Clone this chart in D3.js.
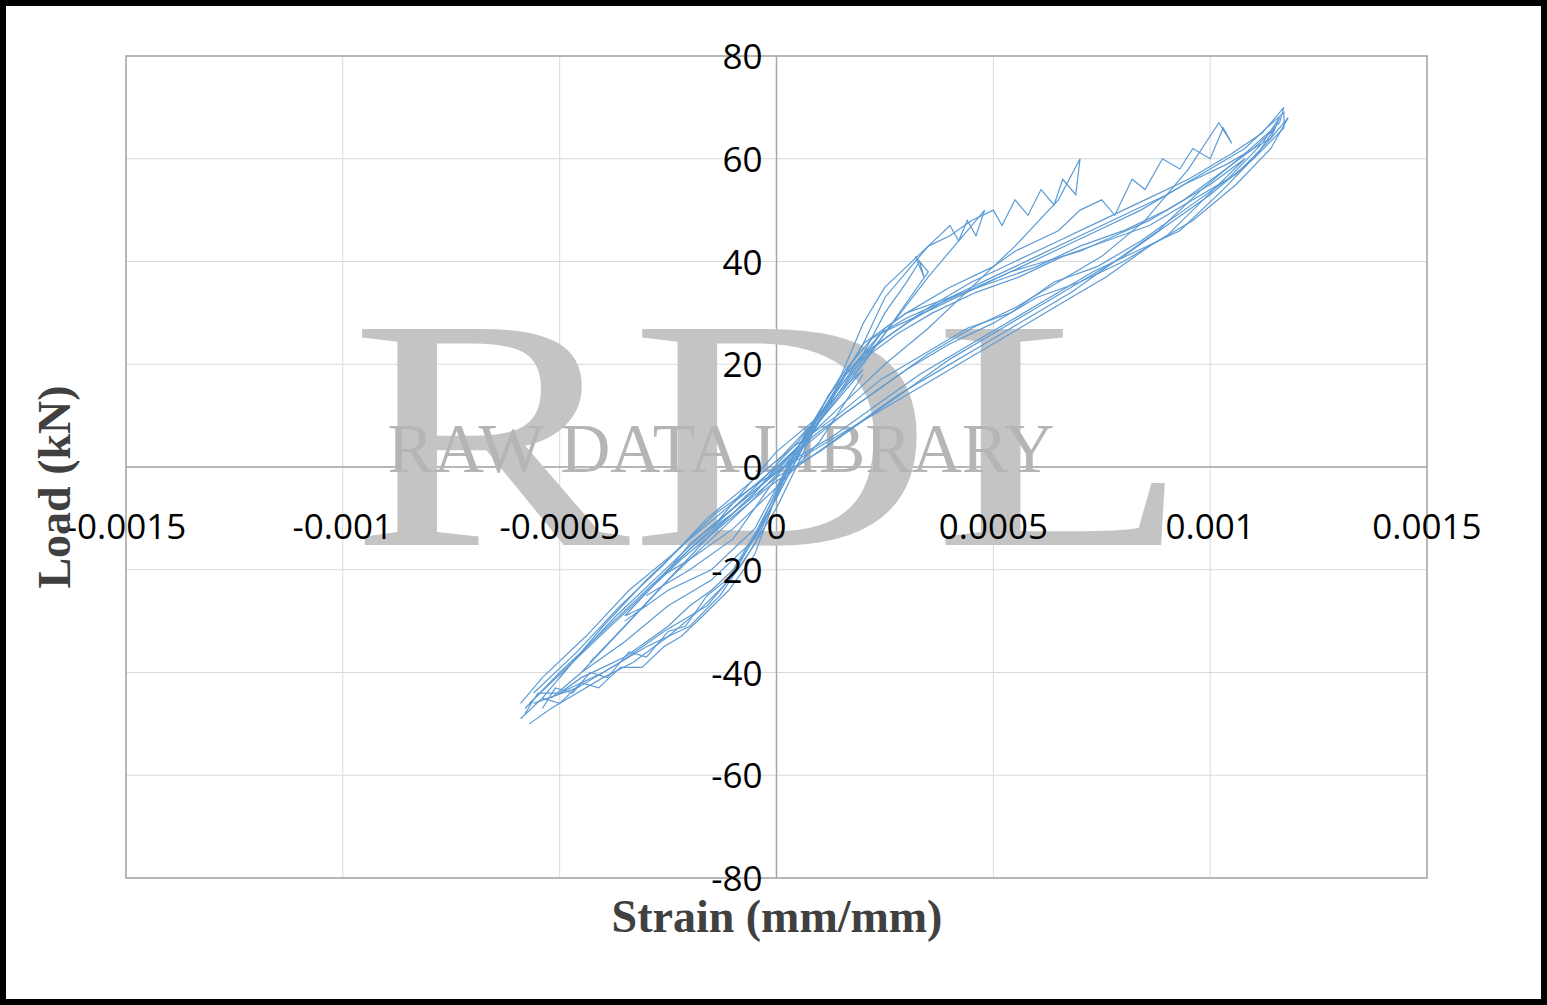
<!DOCTYPE html>
<html><head><meta charset="utf-8">
<script src="https://cdn.jsdelivr.net/npm/d3@7"></script>
<style>body{margin:0;background:#fff}</style></head>
<body><svg id="c" width="1547" height="1005"></svg>
<script>
const xTicks=[-0.0015,-0.001,-0.0005,0,0.0005,0.001,0.0015];
const xTickLabels=["-0.0015","-0.001","-0.0005","0","0.0005","0.001","0.0015"];
const yTicks=[-80,-60,-40,-20,0,20,40,60,80];
// loops: [strain(x1e-4), load kN]
const loop1=[[0,0],[0.5,4],[1,9],[1.5,14],[2,19],[1.5,15],[1,10],[0,3],[-0.5,-2],[-1,-7],[-1.5,-12],[-1,-9],[-0.5,-5],[0,0]];
const loop2=[[0,1],[1,10],[2,22],[2.5,30],[3,36],[3.3,40],[3.4,37],[3.2,41],[3.5,38],[3,32],[2,20],[1,9],[0,-1],[-1,-8],[-2,-15],[-2.6,-21],[-2,-18],[-1,-12],[0,-4],[1,5],[2,18]];
const loop3=[[-3,-25],[-2,-20],[-1,-14],[0,-2],[1,10],[2,24],[2.5,33],[3,38],[3.5,43],[4,47],[4.2,44],[4.4,48],[4.6,45],[4.8,50],[4.5,47],[3.5,37],[2.5,26],[1.5,15],[0.5,5],[-0.5,-4],[-1.5,-12],[-2.5,-20],[-3.5,-29],[-3,-27]];
const loop4=[[-3.5,-30],[-2.5,-24],[-1.5,-20],[-0.5,-12],[0.5,4],[1.5,18],[2,28],[2.5,35],[3,39],[3.5,43],[4,45],[4.5,48],[5,50],[5.2,47],[5.5,52],[5.8,49],[6.1,54],[6.4,51],[6.6,56],[6.9,53],[7,60],[6.5,52],[5.5,43],[4.5,35],[3.5,27],[2.5,20],[1.5,12],[0.5,4],[-0.5,-5],[-1.5,-13],[-2.5,-22],[-3.5,-31],[-4.3,-38]];
const loop5=[[-4.5,-40],[-3.5,-34],[-2.5,-27],[-1.5,-22],[-0.5,-14],[0.5,2],[1.5,17],[2,24],[3,30],[4,35],[5,39],[5.5,42],[6,44],[6.5,46],[7,50],[7.5,52],[7.8,49],[8.2,56],[8.5,54],[8.9,60],[9.3,58],[9.6,62],[10,60],[10.3,66],[10.5,63],[10.2,67],[9.5,58],[8.5,48],[7.5,41],[6.5,36],[5.5,31],[4.5,27],[3.5,22],[2.5,16],[1.5,10],[0.5,3],[-0.5,-6],[-1.5,-14],[-2.5,-22],[-3.5,-31],[-4.5,-40],[-5.2,-45]];
const loop6=[[-5.8,-48],[-5.5,-44],[-5,-44],[-4.5,-41],[-4,-39],[-3.5,-37],[-3,-34],[-2.5,-31],[-2,-27],[-1.5,-24],[-1,-20],[-0.5,-13],[0,-5],[0.5,3],[1,10],[1.5,17],[2,22],[3,28],[4,33],[5,37],[6,41],[7,45],[8,49],[9,53],[10,58],[10.8,62],[11.3,66],[11.7,69],[11.7,66],[11,60],[10,53],[9,47],[8,41],[7,36],[6,31],[5,26],[4,21],[3,15],[2,9],[1,3],[0,-2],[-1,-9],[-2,-16],[-3,-24],[-4,-32],[-5,-40],[-5.8,-47]];
const loop7=[[-5.7,-50],[-5.2,-47],[-4.8,-45],[-4,-41],[-3.3,-38],[-2.5,-33],[-1.8,-28],[-1.2,-23],[-0.6,-15],[0,-6],[0.6,4],[1.2,14],[1.8,20],[2.5,25],[3.5,31],[4.5,36],[5.5,40],[6.5,44],[7.5,48],[8.5,52],[9.5,56],[10.5,61],[11.2,65],[11.7,70],[11.6,67],[10.8,61],[9.8,54],[8.8,46],[7.8,40],[6.8,34],[5.8,29],[4.8,24],[3.8,19],[2.8,14],[1.8,8],[0.8,2],[-0.2,-4],[-1.2,-11],[-2.2,-18],[-3.2,-26],[-4.2,-34],[-5.2,-42],[-5.7,-46]];
const loop8=[[-5.6,-46],[-4.6,-43],[-3.6,-38],[-2.6,-32],[-1.6,-27],[-0.8,-19],[0,-8],[0.8,6],[1.6,18],[2.4,26],[3.4,30],[4.4,34],[5.4,38],[6.4,42],[7.4,46],[8.4,50],[9.4,55],[10.4,59],[11.4,64],[11.6,68],[11.2,63],[10.4,56],[9.4,50],[8.4,44],[7.4,39],[6.4,36],[5.4,30],[4.4,27],[3.4,22],[2.4,17],[1.4,10],[0.4,4],[-0.6,-3],[-1.6,-10],[-2.6,-19],[-3.6,-27],[-4.6,-36],[-5.6,-44]];
const loop9=[[-5,-44],[-4,-40],[-3,-35],[-2,-31],[-1.3,-25],[-0.5,-15],[0.3,0],[1,9],[1.8,19],[2.5,27],[3,30],[4,33],[5,36],[6,39],[7,43],[8,46],[9,50],[10,55],[10.8,60],[10.2,55],[9,45],[8,40],[7,36],[6,33],[5,28],[4,24],[3,19],[2,13],[1,7],[0,0],[-1,-7],[-2,-14],[-3,-22],[-4,-31],[-5,-41]];
const loop10=[[-5.4,-47],[-5.1,-43],[-4.7,-44],[-4.3,-40],[-3.9,-41],[-3.4,-36],[-3,-37],[-2.5,-32],[-2.1,-31],[-1.6,-25],[-1,-21],[-0.4,-12],[0.3,1],[1,11],[1.6,19],[2.2,25],[3,29],[3.8,32],[4.6,35],[5.4,38],[6.2,40],[7,42],[7.8,45],[8.6,48],[9.4,52],[10.2,57],[11,62],[11.5,66],[11.1,61],[10.3,54],[9.3,46],[8.3,42],[7.3,38],[6.3,33],[5.3,28],[4.3,23],[3.3,18],[2.3,12],[1.3,6],[0.3,1],[-0.7,-6],[-1.7,-13],[-2.7,-21],[-3.7,-29],[-4.7,-38],[-5.4,-45]];
const loop11=[[-5.9,-49],[-5.4,-45],[-5,-46],[-4.5,-42],[-4.1,-43],[-3.6,-39],[-3.1,-39],[-2.6,-35],[-2.2,-33],[-1.7,-29],[-1.1,-24],[-0.5,-17],[0.1,-3],[0.7,7],[1.4,15],[2,21],[2.8,26],[3.6,30],[4.6,34],[5.6,37],[6.6,41],[7.6,44],[8.6,47],[9.6,52],[10.6,57],[11.3,63],[11.8,68],[11.4,62],[10.6,55],[9.6,48],[8.6,43],[7.6,37],[6.6,32],[5.6,27],[4.6,22],[3.6,17],[2.6,12],[1.6,7],[0.6,2],[-0.4,-3],[-1.4,-9],[-2.4,-17],[-3.4,-24],[-4.4,-33],[-5.4,-41],[-5.9,-46]];
const loops=[loop1,loop2,loop3,loop4,loop5,loop6,loop7,loop8,loop9,loop10,loop11];

const svg=d3.select("#c");
const L=126,R=1427,T=56,B=878;
const x=d3.scaleLinear().domain([-0.0015,0.0015]).range([L,R]);
const y=d3.scaleLinear().domain([-80,80]).range([B,T]);
svg.append("rect").attr("x",3).attr("y",3).attr("width",1541).attr("height",999).attr("fill","#fff").attr("stroke","#000").attr("stroke-width",6);
const g=svg.append("g");
g.selectAll(".gx").data(xTicks).join("line").attr("x1",d=>x(d)).attr("x2",d=>x(d)).attr("y1",T).attr("y2",B).attr("stroke","#d9d9d9");
g.selectAll(".gy").data(yTicks).join("line").attr("y1",d=>y(d)).attr("y2",d=>y(d)).attr("x1",L).attr("x2",R).attr("stroke","#d9d9d9");
g.append("rect").attr("x",L).attr("y",T).attr("width",R-L).attr("height",B-T).attr("fill","none").attr("stroke","#a6a6a6").attr("stroke-width",1.5);
// watermark
const wm=svg.append("g").attr("fill","#c4c4c4").attr("font-family","Liberation Serif");
wm.append("text").attr("x",770).attr("y",545).attr("text-anchor","middle").attr("font-size",330).attr("textLength",840).attr("lengthAdjust","spacingAndGlyphs").text("RDL");
wm.append("text").attr("x",721).attr("y",472).attr("text-anchor","middle").attr("font-size",70).attr("fill","#b5b5b5").attr("textLength",667).attr("lengthAdjust","spacingAndGlyphs").text("RAW DATA LIBRARY");
// axes lines
g.append("line").attr("x1",x(0)).attr("x2",x(0)).attr("y1",T).attr("y2",B).attr("stroke","#a6a6a6").attr("stroke-width",1.5);
g.append("line").attr("y1",y(0)).attr("y2",y(0)).attr("x1",L).attr("x2",R).attr("stroke","#a6a6a6").attr("stroke-width",1.5);
// data
const line=d3.line().x(d=>x(d[0]*1e-4)).y(d=>y(d[1]));
svg.append("g").selectAll("path").data(loops).join("path").attr("d",line).attr("fill","none").attr("stroke","#5b9bd5").attr("stroke-width",1.2);
// ticks
const tf="Open Sans, Liberation Sans, sans-serif";
svg.selectAll(".yl").data(yTicks).join("text").attr("x",x(0)-14).attr("y",d=>y(d)+13).attr("text-anchor","end").attr("font-family",tf).attr("font-size",35).text(d=>d);
svg.selectAll(".xl").data(xTicks).join("text").attr("x",d=>x(d)).attr("y",y(0)+72).attr("text-anchor","middle").attr("font-family",tf).attr("font-size",35).text((d,i)=>xTickLabels[i]);
svg.append("text").attr("x",777).attr("y",932).attr("text-anchor","middle").attr("font-family","Liberation Serif").attr("font-weight","bold").attr("font-size",46).attr("fill","#404040").text("Strain (mm/mm)");
svg.append("text").attr("transform","translate(70,487) rotate(-90)").attr("text-anchor","middle").attr("font-family","Liberation Serif").attr("font-weight","bold").attr("font-size",46).attr("fill","#404040").text("Load (kN)");
</script></body></html>
